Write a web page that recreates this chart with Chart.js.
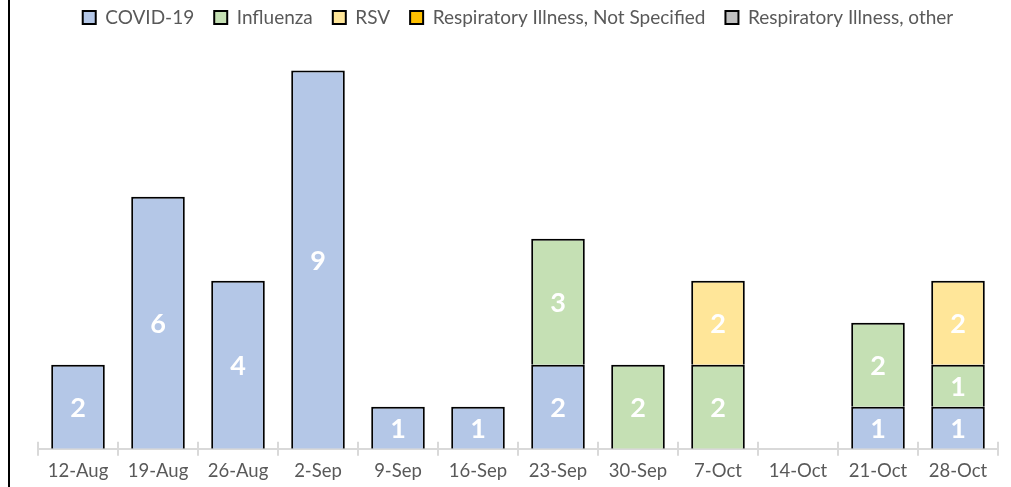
<!DOCTYPE html>
<html>
<head>
<meta charset="utf-8">
<script src="https://cdn.jsdelivr.net/npm/chart.js@4"></script>
<style>
  html, body { margin: 0; padding: 0; background: #fff; }
  #wrap { width: 1011px; height: 487px; position: relative; }
</style>
</head>
<body>
<div id="wrap"><canvas id="chart"></canvas></div>
<script>
const weeks = ['12-Aug', '19-Aug', '26-Aug', '2-Sep', '9-Sep', '16-Sep', '23-Sep', '30-Sep', '7-Oct', '14-Oct', '21-Oct', '28-Oct']
const covid = [2, 6, 4, 9, 1, 1, 2, 0, 0, 0, 1, 1]
const influenza = [0, 0, 0, 0, 0, 0, 3, 2, 2, 0, 2, 1]
const rsv = [0, 0, 0, 0, 0, 0, 0, 0, 2, 0, 0, 2]
const notSpecified = [0, 0, 0, 0, 0, 0, 0, 0, 0, 0, 0, 0]
const other = [0, 0, 0, 0, 0, 0, 0, 0, 0, 0, 0, 0]

const FONT = 'Lato, "Open Sans", sans-serif'

function series(label, data, color) {
    return {
        label: label,
        data: data,
        backgroundColor: color,
        borderColor: '#000',
        // empty segments get no outline, else they leave a line on top of the stack
        borderWidth: ctx => (ctx.raw ? 2 : 0),
        barPercentage: 0.67,
        categoryPercentage: 1,
    }
}

// white numbers in the middle of each segment
const barLabels = {
    id: 'barLabels',
    afterDatasetsDraw(chart) {
        const c = chart.ctx
        c.save()
        c.fillStyle = '#fff'
        c.font = 'bold 27px ' + FONT
        c.textAlign = 'center'
        c.textBaseline = 'middle'
        chart.data.datasets.forEach((ds, i) => {
            chart.getDatasetMeta(i).data.forEach((bar, j) => {
                const v = ds.data[j]
                if (!v) return
                const p = bar.getProps(['x', 'y', 'base'], true)
                c.fillText(v, p.x, (p.y + p.base) / 2 + 2)
            })
        })
        c.restore()
    }
}

// left frame line + tick marks poking above the axis
const frame = {
    id: 'frame',
    afterDraw(chart) {
        const c = chart.ctx
        const xs = chart.scales.x
        c.save()
        c.strokeStyle = '#000'
        c.lineWidth = 2
        c.beginPath()
        c.moveTo(9, 0)
        c.lineTo(9, chart.height)
        c.stroke()
        c.strokeStyle = '#D9D9D9'
        c.beginPath()
        const step = (xs.right - xs.left) / weeks.length
        for (let i = 0; i <= weeks.length; i++) {
            const x = Math.round(xs.left + i * step)
            c.moveTo(x, xs.top - 7)
            c.lineTo(x, xs.top)
        }
        c.stroke()
        c.restore()
    }
}

new Chart(document.getElementById('chart'), {
    type: 'bar',
    data: {
        labels: weeks,
        datasets: [
            series('COVID-19', covid, '#B4C7E7'),
            series('Influenza', influenza, '#C5E0B4'),
            series('RSV', rsv, '#FFE699'),
            series('Respiratory Illness, Not Specified', notSpecified, '#FFC000'),
            series('Respiratory Illness, other', other, '#BFBFBF'),
        ],
    },
    options: {
        responsive: true,
        maintainAspectRatio: false,
        animation: false,
        layout: { padding: { left: 38, right: 13, top: -12, bottom: 1 } },
        scales: {
            x: {
                stacked: true,
                grid: {
                    display: true,
                    drawOnChartArea: false,
                    offset: true,
                    tickLength: 7,
                    color: '#D9D9D9',
                    lineWidth: 2,
                },
                border: { color: '#D9D9D9', width: 2 },
                ticks: { color: '#595959', font: { family: FONT, size: 18.5 }, padding: 4 },
            },
            y: {
                stacked: true,
                display: false,
                min: 0,
                max: 9.8,
            },
        },
        plugins: {
            tooltip: { enabled: false },
            legend: {
                position: 'top',
                labels: {
                    color: '#595959',
                    font: { family: FONT, size: 19 },
                    boxWidth: 13,
                    boxHeight: 13,
                    padding: 20,
                    generateLabels: chart => chart.data.datasets.map((ds, i) => ({
                        text: ds.label,
                        fillStyle: ds.backgroundColor,
                        strokeStyle: '#000',
                        lineWidth: 2,
                        fontColor: '#595959',
                        datasetIndex: i,
                    })),
                },
            },
        },
    },
    plugins: [barLabels, frame],
})
</script>
</body>
</html>
